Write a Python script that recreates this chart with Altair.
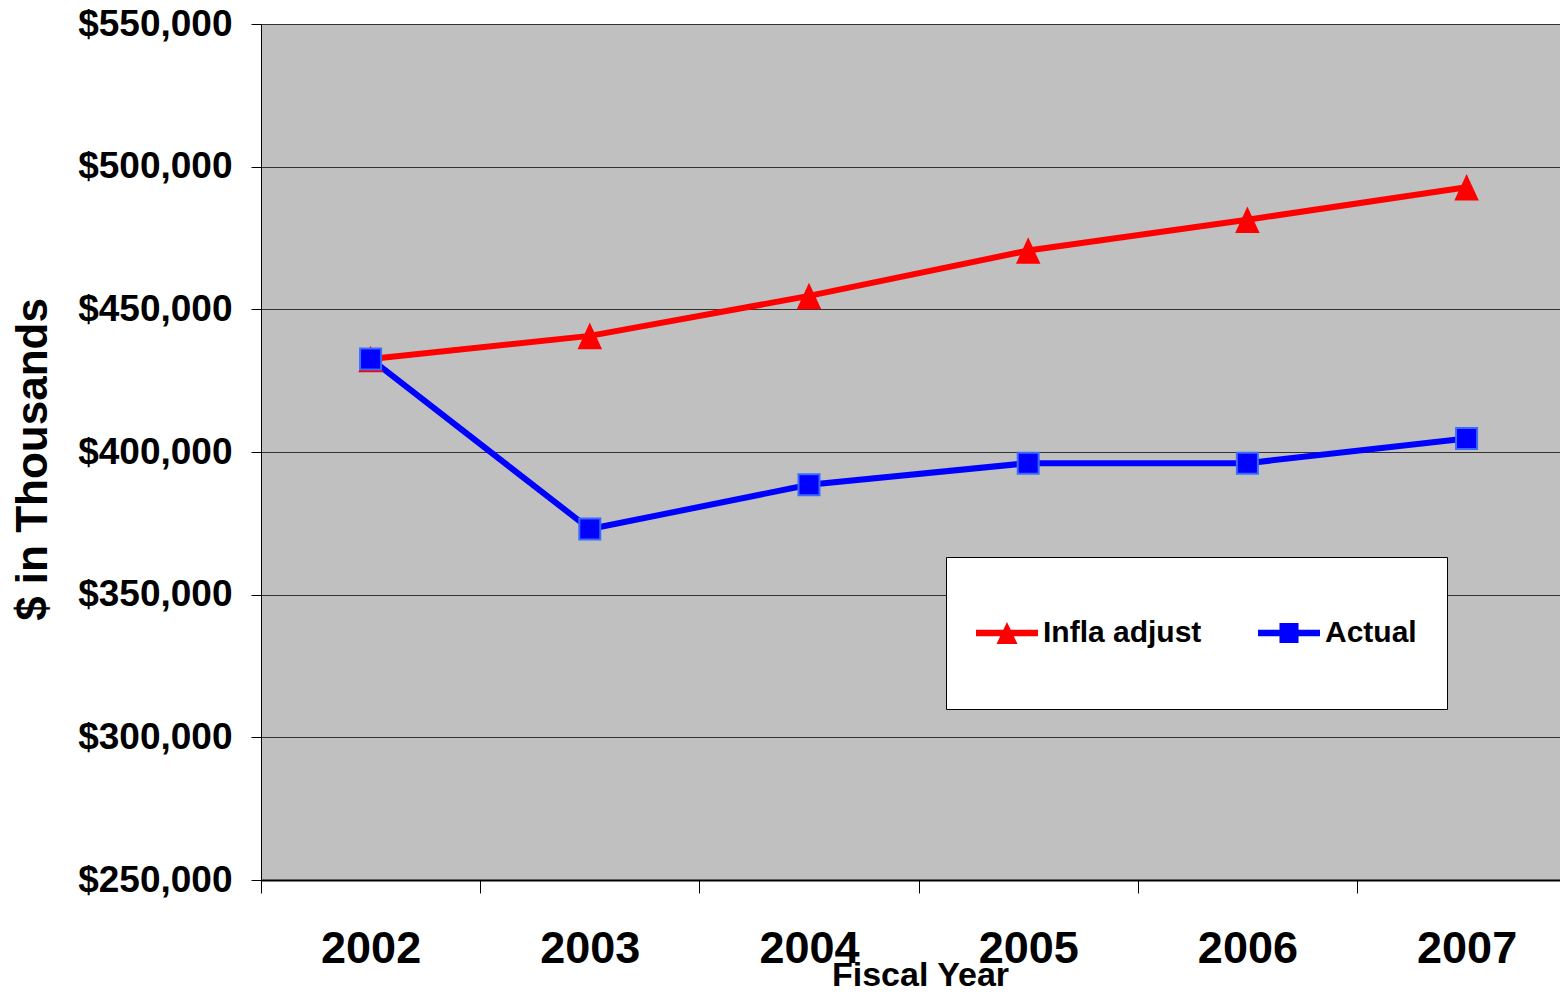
import altair as alt
import pandas as pd

years = [2002, 2003, 2004, 2005, 2006, 2007]
infla_adjust = [432600, 440700, 454700, 470600, 481400, 492800]
actual = [432600, 373000, 388500, 396100, 396100, 404700]
series_names = ["Infla adjust", "Actual"]
series_colors = ["#FF0000", "#0000FF"]
y_ticks = [250000, 300000, 350000, 400000, 450000, 500000, 550000]
x_bounds = [2001.5, 2002.5, 2003.5, 2004.5, 2005.5, 2006.5]

rows = []
for yr, v in zip(years, infla_adjust):
    rows.append({"year": yr, "value": v, "series": "Infla adjust"})
for yr, v in zip(years, actual):
    rows.append({"year": yr, "value": v, "series": "Actual"})
df = pd.DataFrame(rows)

FONT = "Liberation Sans"
W, H = 1299, 856
PX_PER_YEAR = 219.2

# custom legend symbols: line segment + marker (unit box -1..1); lone moveTo pads the entry height
tri_legend = "M-1,-0.07H0.348V0.07H-1Z M-0.326,-0.239L-0.098,0.239H-0.554Z M0,1"
sq_legend = "M-1,-0.07H0.348V0.07H-1Z M-0.533,-0.217H-0.119V0.217H-0.533Z M0,1"
tri_mark = "M0,-1.083L1,1.083L-1,1.083Z"

x_enc = alt.X(
    "year:Q",
    scale=alt.Scale(domain=[2001.5, 2001.5 + W / PX_PER_YEAR], nice=False, zero=False),
    axis=alt.Axis(
        values=x_bounds,
        labelExpr="format(datum.value + 0.5, 'd')",
        labelOffset=PX_PER_YEAR / 2,
        labelFlush=False,
        labelFontSize=45,
        labelFont=FONT,
        labelFontWeight="bold",
        labelColor="#000",
        labelPadding=33,
        tickSize=13,
        tickColor="#000",
        domainColor="#000",
        domainWidth=2,
        grid=False,
        title="Fiscal Year",
        titleFont=FONT,
        titleFontSize=34,
        titleFontWeight="bold",
        titleColor="#000",
        titleBaseline="alphabetic",
        titleY=105,
        titleX=659,
        titleAlign="center",
    ),
)
y_enc = alt.Y(
    "value:Q",
    scale=alt.Scale(domain=[250000, 550000], nice=False, zero=False),
    axis=alt.Axis(
        values=y_ticks,
        format="$,.0f",
        labelFontSize=37,
        labelFont=FONT,
        labelFontWeight="bold",
        labelColor="#000",
        labelPadding=19,
        tickSize=10,
        tickColor="#000",
        domainColor="#000",
        grid=True,
        gridColor="#333333",
        gridWidth=1,
        title="$ in Thousands",
        titleFont=FONT,
        titleFontSize=44,
        titleFontWeight="bold",
        titleColor="#000",
        titleAngle=270,
        titleBaseline="alphabetic",
        titleAlign="center",
        titleX=-215,
        titleY=435,
    ),
)

color_scale = alt.Scale(domain=series_names, range=series_colors)

base = alt.Chart(df)

red_line = base.transform_filter(alt.datum.series == "Infla adjust").mark_line(
    strokeWidth=6, color="#FF0000"
).encode(x=x_enc, y=y_enc)

blue_line = base.transform_filter(alt.datum.series == "Actual").mark_line(
    strokeWidth=6, color="#0000FF"
).encode(x="year:Q", y="value:Q")

tri_points = base.transform_filter(alt.datum.series == "Infla adjust").mark_point(
    shape=tri_mark, size=600, filled=True, fill="#FF0000", opacity=1, strokeWidth=0
).encode(x="year:Q", y="value:Q")

sq_points = base.transform_filter(alt.datum.series == "Actual").mark_point(
    shape="square", size=441, filled=True, fill="#0000FF", opacity=1,
    stroke="#3A6BFF", strokeWidth=2
).encode(x="year:Q", y="value:Q")

legend_kw = dict(
    title=None,
    orient="none",
    legendX=685,
    legendY=533,
    direction="horizontal",
    fillColor="#FFFFFF",
    strokeColor="#000000",
    padding=30,
    symbolSize=8464,
    symbolStrokeWidth=0,
    symbolOpacity=1,
    labelFont=FONT,
    labelFontSize=30,
    labelFontWeight="bold",
    labelColor="#000",
    labelOffset={"expr": "-25"},
    columnPadding=56,
    labelLimit=400,
)

legend_layer = base.mark_point(filled=True, opacity=0).encode(
    x="year:Q", y="value:Q",
    color=alt.Color("series:N", scale=color_scale, legend=alt.Legend(**legend_kw)),
    shape=alt.Shape("series:N", scale=alt.Scale(domain=series_names, range=[tri_legend, sq_legend]),
                    legend=alt.Legend(**legend_kw)),
)

chart = alt.layer(red_line, blue_line, tri_points, sq_points, legend_layer).properties(
    width=W,
    height=H,
    autosize=alt.AutoSizeParams(type="none"),
    padding={"left": 253, "top": 16, "right": 0, "bottom": 112},
    background="#FFFFFF",
).configure_view(fill="#C0C0C0", strokeWidth=0)

chart.save("out.html", embed_options={"renderer": "svg", "actions": False})
